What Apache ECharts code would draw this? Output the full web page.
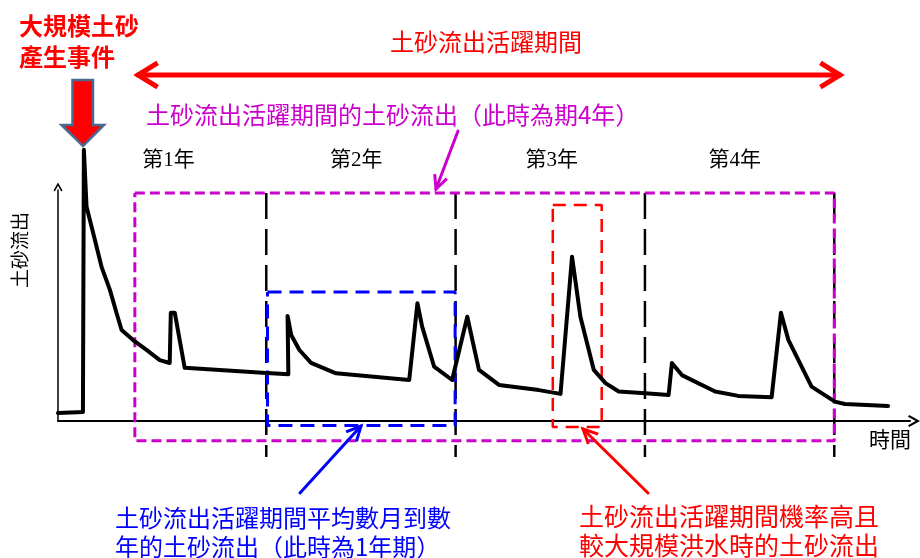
<!DOCTYPE html>
<html>
<head>
<meta charset="utf-8">
<script src="https://cdn.jsdelivr.net/npm/echarts@6/dist/echarts.min.js"></script>
<style>html,body{margin:0;padding:0;background:#fff;}#main{width:920px;height:558px;}</style>
</head>
<body>
<div id="main"></div>
<script>
// ---- data (time in months after the large sediment event, sediment discharge in relative units)
const timeMonths = [-1.2, 0.38, 0.44, 0.61, 1.14, 1.56, 2.09, 2.51, 2.83, 3.54, 4.41, 5.25, 5.88, 5.95, 6.20, 6.83, 11.76, 13.40, 13.35, 13.58, 14.10, 14.84, 16.42, 21.06, 21.10, 21.58, 21.88, 22.64, 23.78, 23.90, 24.74, 25.48, 26.75, 29.28, 30.65, 31.38, 31.91, 32.76, 33.50, 34.34, 36.02, 37.50, 37.71, 38.34, 40.45, 41.92, 44.03, 44.62, 45.09, 46.56, 48.04, 48.67, 51.41];
const sedimentFlow = [2.8, 3.1, 93.9, 74.2, 62.7, 53.4, 45.4, 37.4, 31.5, 28.1, 24.6, 21.1, 20.1, 37.5, 37.5, 18.4, 16.7, 16.2, 36.4, 29.8, 24.6, 20.1, 16.5, 14.2, 13.8, 40.8, 32.7, 18.8, 14.2, 13.6, 36.1, 17.7, 12.5, 10.7, 9.4, 56.9, 36.1, 17.7, 13.1, 10.2, 9.6, 9.0, 20.1, 15.9, 10.2, 8.7, 8.2, 37.5, 28.1, 11.9, 6.7, 5.9, 5.2];
const yearBoundaries = [12, 24, 36, 48];
const yearLabels = ['第1年', '第2年', '第3年', '第4年'];
const yearLabelMonths = [5.8, 17.7, 30.1, 41.7];
// annotation boxes: [tStart, tEnd, yLow, yHigh]
const activePeriodBox = [3.67, 48.0, -6.8, 79.0];
const monthsToYearBox = [12.08, 23.97, -1.6, 44.7];
const largeFloodBox = [30.16, 33.26, -2.1, 74.8];
const boundaryRange = [-12.5, 79.0];

const xAxisName = '時間';
const yAxisName = '土砂流出';
const eventText = '大規模土砂\n產生事件';
const periodText = '土砂流出活躍期間';
const activeText = '土砂流出活躍期間的土砂流出（此時為期4年）';
const blueText = '土砂流出活躍期間平均數月到數\n年的土砂流出（此時為1年期）';
const redText = '土砂流出活躍期間機率高且\n較大規模洪水時的土砂流出';

const CJK = "'Noto Sans CJK TC','Noto Sans CJK SC',sans-serif";
const SERIF = "'Liberation Serif','Noto Sans CJK TC',serif";

function boxData(b) {
  return [[b[0], b[3]], [b[1], b[3]], [b[1], b[2]], [b[0], b[2]], [b[0], b[3]]];
}
function dashedSeries(data, color, width, dash) {
  return {
    type: 'line', data: data, symbol: 'none', clip: false, silent: true, animation: false,
    lineStyle: { color: color, width: width, type: dash }, z: 3
  };
}
function arrowEls(x1, y1, x2, y2, color, w, head, spread, both) {
  const els = [];
  els.push({ type: 'line', shape: { x1: x1, y1: y1, x2: x2, y2: y2 }, style: { stroke: color, lineWidth: w, lineCap: 'round' }, z: 20 });
  function headAt(tx, ty, fx, fy) {
    const a = Math.atan2(ty - fy, tx - fx);
    els.push({
      type: 'polyline',
      shape: { points: [[tx - head * Math.cos(a - spread), ty - head * Math.sin(a - spread)], [tx, ty], [tx - head * Math.cos(a + spread), ty - head * Math.sin(a + spread)]] },
      style: { stroke: color, lineWidth: w, fill: null, lineJoin: 'miter' }, z: 20
    });
  }
  headAt(x2, y2, x1, y1);
  if (both) headAt(x1, y1, x2, y2);
  return els;
}

const chart = echarts.init(document.getElementById('main'), null, { renderer: 'canvas' });

const series = [
  {
    type: 'line',
    data: timeMonths.map((t, i) => [t, sedimentFlow[i]]),
    symbol: 'none', clip: false, smooth: false, animation: false,
    lineStyle: { color: '#000', width: 4, join: 'round', cap: 'round' }, z: 5
  }
];
yearBoundaries.forEach(t => {
  series.push(dashedSeries([[t, boundaryRange[1]], [t, boundaryRange[0]]], '#000', 2.5, [26, 10]));
});
series.push(dashedSeries(boxData(activePeriodBox), '#CC00CC', 3, [10, 5]));
series.push(dashedSeries(boxData(monthsToYearBox), '#0000FF', 3, [14, 8]));
series.push(dashedSeries(boxData(largeFloodBox), '#FF0000', 2.5, [13, 8]));

const chevron = 'path://M5,0 L10,9 L8.6,10 L5,3.6 L1.4,10 L0,9 Z';

const option = {
  backgroundColor: '#fff',
  animation: false,
  grid: { left: 58, right: 10, top: 190, bottom: 137 },
  xAxis: {
    type: 'value', min: -1.2, max: 52.8,
    axisLabel: { show: false }, axisTick: { show: false }, splitLine: { show: false },
    axisLine: { onZero: false, lineStyle: { color: '#000', width: 2 }, symbol: ['none', chevron], symbolSize: [16, 12], symbolOffset: [0, 4] }
  },
  yAxis: {
    type: 'value', min: 0, max: 80,
    axisLabel: { show: false }, axisTick: { show: false }, splitLine: { show: false },
    axisLine: { onZero: false, lineStyle: { color: '#000', width: 1.5 }, symbol: ['none', chevron], symbolSize: [12, 9], symbolOffset: [0, 3] }
  },
  series: series
};
chart.setOption(option);

// ---- annotations (text, arrows)
const px = (t, v) => chart.convertToPixel({ gridIndex: 0 }, [t, v]);
const graphics = [];

// event block arrow
graphics.push({
  type: 'polygon',
  shape: { points: [[72.5, 80], [93, 80], [93, 125], [104, 125], [83, 146], [61.5, 125], [72.5, 125]] },
  style: { fill: '#FF0000', stroke: '#4A6A90', lineWidth: 2.5, lineJoin: 'miter' }, z: 25
});
graphics.push({
  type: 'text', left: 19, top: 10,
  style: { text: eventText, fill: '#FF0000', font: 'bold 24px ' + CJK, lineHeight: 31 }, z: 25
});
// period arrow + text
graphics.push(...arrowEls(138, 75, 840, 75, '#FF0000', 5, 23, 0.55, true));
graphics.push({ type: 'text', x: 486, y: 42, style: { text: periodText, fill: '#FF0000', font: '24px ' + CJK, align: 'center', verticalAlign: 'middle' }, z: 25 });
graphics.push({ type: 'text', x: 146, y: 115, style: { text: activeText, fill: '#CC00CC', font: '24px ' + CJK, align: 'left', verticalAlign: 'middle' }, z: 25 });
graphics.push(...arrowEls(458, 131, 436, 189, '#CC00CC', 3, 15, 0.45, false));
// year labels
yearLabels.forEach((lab, i) => {
  const p = px(yearLabelMonths[i], 0);
  graphics.push({ type: 'text', x: p[0], y: 160, style: { text: lab, fill: '#000', font: '21px ' + SERIF, align: 'center', verticalAlign: 'middle' }, z: 25 });
});
// axis names
graphics.push({ type: 'text', x: 20, y: 250, rotation: Math.PI / 2, style: { text: yAxisName, fill: '#000', font: '19px ' + CJK, align: 'center', verticalAlign: 'middle' }, z: 25 });
graphics.push({ type: 'text', x: 890, y: 441, style: { text: xAxisName, fill: '#000', font: '21px ' + SERIF, align: 'center', verticalAlign: 'middle' }, z: 25 });
// bottom annotations
graphics.push(...arrowEls(300, 493, 361, 426, '#0000FF', 3, 16, 0.45, false));
graphics.push({ type: 'text', left: 115, top: 503, style: { text: blueText, fill: '#0000FF', font: '24px ' + CJK, lineHeight: 29 }, z: 25 });
graphics.push(...arrowEls(648, 493, 583, 429, '#FF0000', 3, 16, 0.45, false));
graphics.push({ type: 'text', left: 579, top: 502, style: { text: redText, fill: '#FF0000', font: '25px ' + CJK, lineHeight: 29 }, z: 25 });

chart.setOption({ graphic: { elements: graphics } });
</script>
</body>
</html>
